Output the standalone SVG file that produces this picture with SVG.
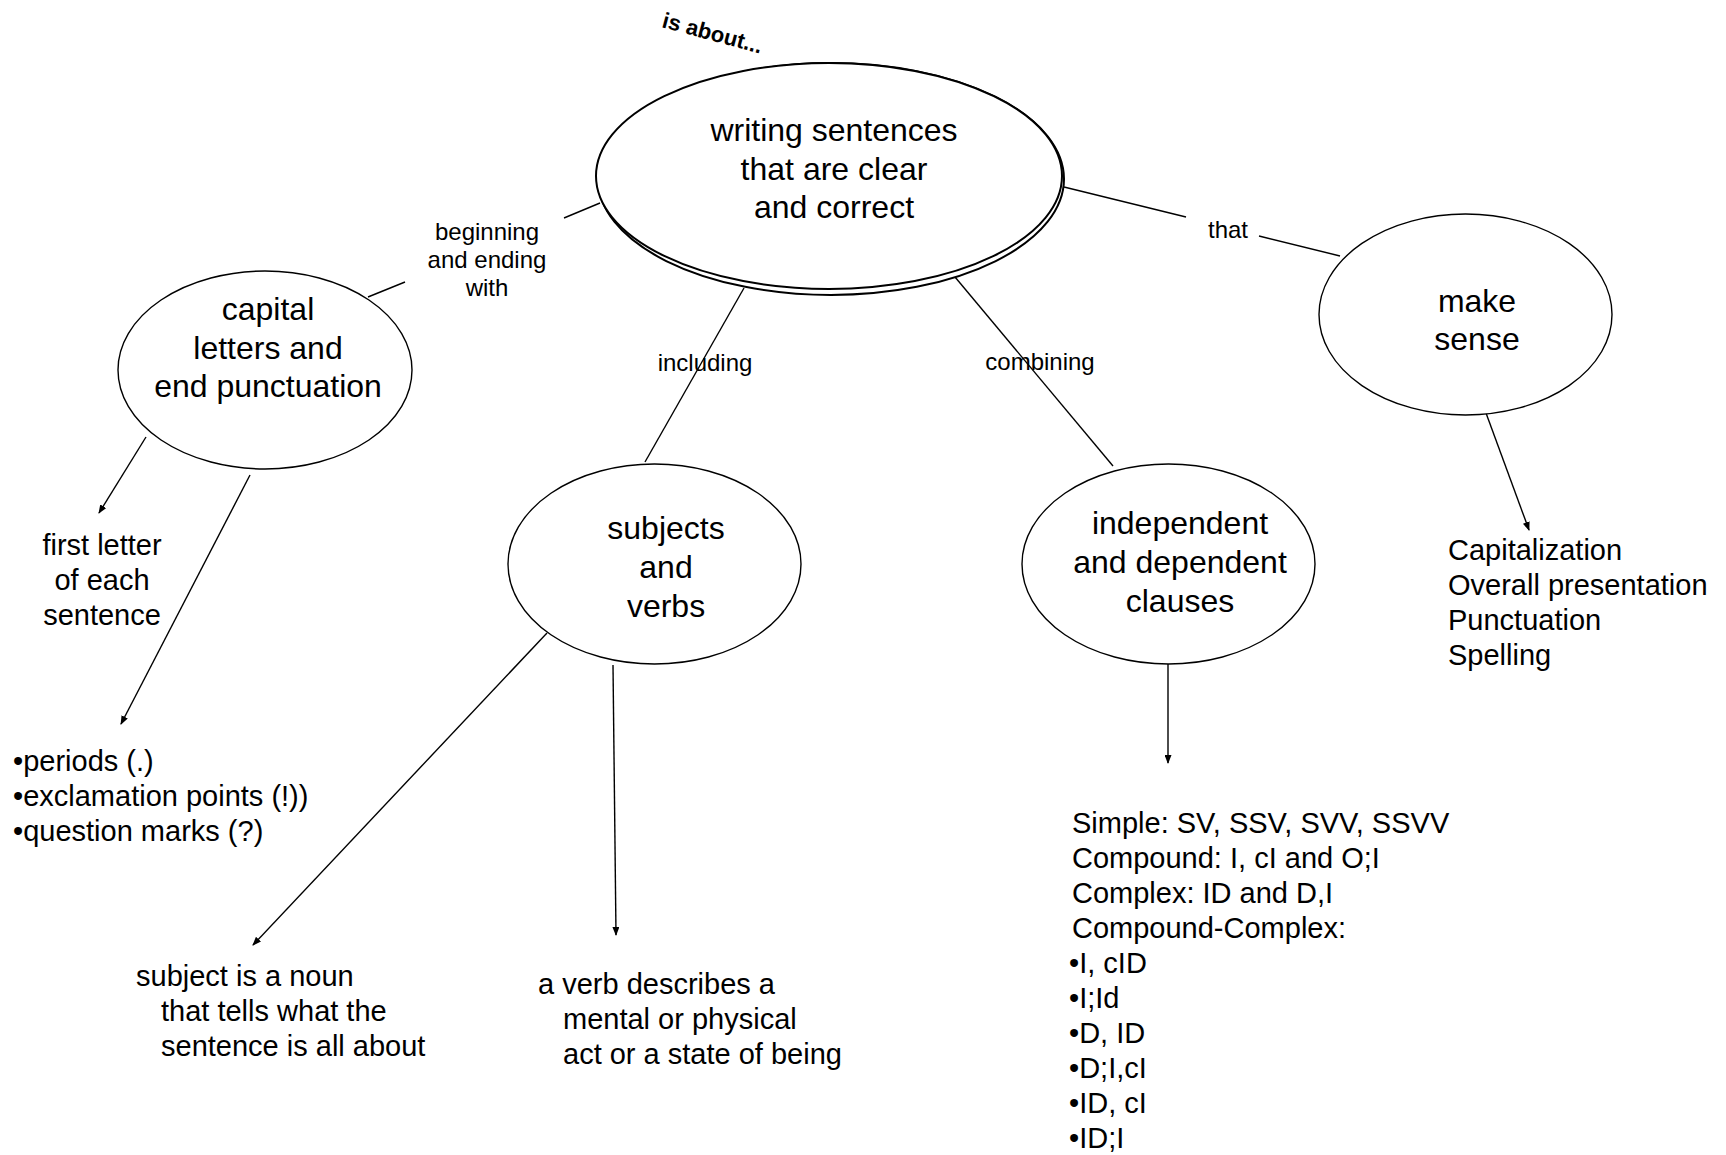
<svg xmlns="http://www.w3.org/2000/svg" width="1726" height="1155" viewBox="0 0 1726 1155">
<style>
text { font-family: "Liberation Sans", Arial, Helvetica, sans-serif; fill: #000; }
.node { fill: #fff; stroke: #000; stroke-width: 1.4; }
.main { fill: #fff; stroke: #000; stroke-width: 2; }
.big { font-size: 32px; text-anchor: middle; }
.lbl { font-size: 24px; text-anchor: middle; }
.sm { font-size: 29px; }
.smc { font-size: 29px; text-anchor: middle; }
.conn line { stroke: #000; stroke-width: 1.4; fill: none; }
.arr { marker-end: url(#ah); }
</style>
<defs>
<marker id="ah" markerUnits="userSpaceOnUse" markerWidth="9" markerHeight="7" refX="8" refY="3.5" orient="auto">
<path d="M0,0 L9,3.5 L0,7 z" fill="#000"/>
</marker>
</defs>
<rect width="1726" height="1155" fill="#fff"/>

<g id="connectors" class="conn">
<line x1="600" y1="203" x2="564" y2="218"/>
<line x1="405" y1="282" x2="368" y2="297"/>
<line x1="1064" y1="187" x2="1186" y2="217"/>
<line x1="1259" y1="236" x2="1340" y2="256"/>
<line x1="744" y1="288" x2="645" y2="462"/>
<line x1="955" y1="277" x2="1113" y2="466"/>
<line class="arr" x1="1486" y1="413" x2="1529" y2="530"/>
<line class="arr" x1="146" y1="437" x2="99" y2="513"/>
<line class="arr" x1="250" y1="475" x2="121" y2="724"/>
<line class="arr" x1="547" y1="633" x2="253" y2="945"/>
<line class="arr" x1="613" y1="665" x2="616" y2="935"/>
<line class="arr" x1="1168" y1="664" x2="1168" y2="763"/>
</g>

<g id="label-is-about">
<text x="661" y="27" font-size="22" font-weight="bold" transform="rotate(15 661 27)">is about...</text>
</g>

<g id="node-main">
<ellipse class="main" cx="831" cy="179" rx="233" ry="116"/>
<ellipse class="main" cx="829" cy="176" rx="233" ry="113"/>
<text class="big"><tspan x="834" y="141">writing sentences</tspan><tspan x="834" y="179.5">that are clear</tspan><tspan x="834" y="218">and correct</tspan></text>
</g>

<g id="label-beginning">
<text class="lbl"><tspan x="487" y="240">beginning</tspan><tspan x="487" y="268">and ending</tspan><tspan x="487" y="296">with</tspan></text>
</g>

<g id="label-that">
<text class="lbl" x="1228" y="238">that</text>
</g>

<g id="label-including">
<text class="lbl" x="705" y="371">including</text>
</g>

<g id="label-combining">
<text class="lbl" x="1040" y="370">combining</text>
</g>

<g id="node-capital">
<ellipse class="node" cx="265" cy="370" rx="147" ry="99"/>
<text class="big"><tspan x="268" y="320">capital</tspan><tspan x="268" y="359">letters and</tspan><tspan x="268" y="397">end punctuation</tspan></text>
</g>

<g id="node-subjects">
<ellipse class="node" cx="654.5" cy="564" rx="146.5" ry="100"/>
<text class="big"><tspan x="666" y="539">subjects</tspan><tspan x="666" y="578">and</tspan><tspan x="666" y="617">verbs</tspan></text>
</g>

<g id="node-independent">
<ellipse class="node" cx="1168.5" cy="564" rx="146.5" ry="100"/>
<text class="big"><tspan x="1180" y="534">independent</tspan><tspan x="1180" y="573">and dependent</tspan><tspan x="1180" y="612">clauses</tspan></text>
</g>

<g id="node-make-sense">
<ellipse class="node" cx="1465.5" cy="314.5" rx="146.5" ry="100.5"/>
<text class="big"><tspan x="1477" y="312">make</tspan><tspan x="1477" y="350">sense</tspan></text>
</g>

<g id="text-first-letter">
<text class="smc"><tspan x="102" y="555">first letter</tspan><tspan x="102" y="590">of each</tspan><tspan x="102" y="625">sentence</tspan></text>
</g>

<g id="text-punctuation-list">
<text class="sm"><tspan x="13" y="771">•periods (.)</tspan><tspan x="13" y="806">•exclamation points (!))</tspan><tspan x="13" y="841">•question marks (?)</tspan></text>
</g>

<g id="text-subject">
<text class="sm"><tspan x="136" y="986">subject is a noun</tspan><tspan x="161" y="1021">that tells what the</tspan><tspan x="161" y="1056">sentence is all about</tspan></text>
</g>

<g id="text-verb">
<text class="sm"><tspan x="538" y="994">a verb describes a</tspan><tspan x="563" y="1029">mental or physical</tspan><tspan x="563" y="1064">act or a state of being</tspan></text>
</g>

<g id="text-make-sense-list">
<text class="sm"><tspan x="1448" y="560">Capitalization</tspan><tspan x="1448" y="595">Overall presentation</tspan><tspan x="1448" y="630">Punctuation</tspan><tspan x="1448" y="665">Spelling</tspan></text>
</g>

<g id="text-clauses-list">
<text class="sm"><tspan x="1072" y="833">Simple: SV, SSV, SVV, SSVV</tspan><tspan x="1072" y="868">Compound: I, cI and O;I</tspan><tspan x="1072" y="903">Complex: ID and D,I</tspan><tspan x="1072" y="938">Compound-Complex:</tspan><tspan x="1069" y="973">•I, cID</tspan><tspan x="1069" y="1008">•I;Id</tspan><tspan x="1069" y="1043">•D, ID</tspan><tspan x="1069" y="1078">•D;I,cI</tspan><tspan x="1069" y="1113">•ID, cI</tspan><tspan x="1069" y="1148">•ID;I</tspan></text>
</g>
</svg>
